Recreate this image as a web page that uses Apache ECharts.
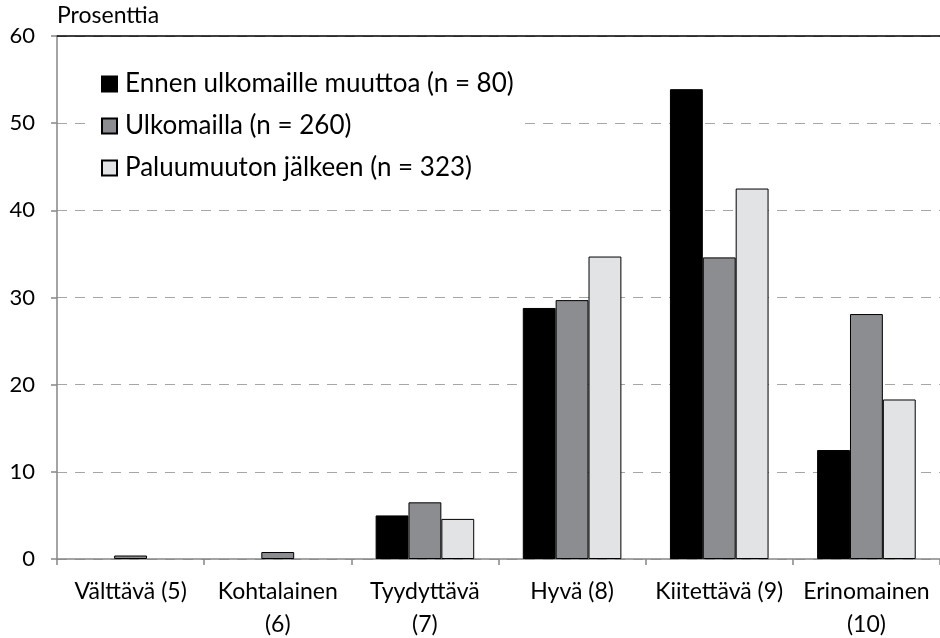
<!DOCTYPE html>
<html>
<head>
<meta charset="utf-8">
<script src="https://cdn.jsdelivr.net/npm/echarts@6/dist/echarts.min.js"></script>
<style>
    html, body { margin: 0; padding: 0; background: #fff; }
    #chart { width: 940px; height: 638px; }
</style>
</head>
<body>
<div id="chart"></div>
<script>
    // categories and values (percent)
    const categories = ['Välttävä (5)', 'Kohtalainen\n(6)', 'Tyydyttävä\n(7)', 'Hyvä (8)', 'Kiitettävä (9)', 'Erinomainen\n(10)'];
    const beforeMove = [0, 0, 5.0, 28.8, 53.9, 12.5];
    const abroad = [0.4, 0.8, 6.5, 29.7, 34.6, 28.1];
    const afterReturn = [0, 0, 4.6, 34.7, 42.5, 18.3];
    const seriesNames = ['Ennen ulkomaille muuttoa (n = 80)', 'Ulkomailla (n = 260)', 'Paluumuuton jälkeen (n = 323)'];
    const yTicks = [0, 10, 20, 30, 40, 50, 60];

    const font = 'Lato, "Open Sans", sans-serif';
    const chart = echarts.init(document.getElementById('chart'), null, { renderer: 'canvas' });

    function barSeries(name, data, color) {
        return {
            name: name,
            type: 'bar',
            // zero shares get no bar at all (otherwise the border leaves a flat line)
            data: data.map(v => v === 0 ? '-' : v),
            barGap: 0,
            barCategoryGap: '33%',
            itemStyle: { color: color, borderColor: '#000', borderWidth: 1 },
            emphasis: { disabled: true }
        };
    }

    chart.setOption({
        animation: false,
        textStyle: { fontFamily: font },
        grid: { left: 57, right: 0, top: 36, bottom: 79, containLabel: false, outerBoundsMode: 'none' },
        title: {
            text: 'Prosenttia',
            left: 57, top: 4, padding: 0,
            textStyle: { fontFamily: font, fontSize: 23, fontWeight: 'normal', color: '#000' }
        },
        legend: {
            orient: 'vertical',
            left: 86, top: 60,
            padding: [11, 10, 12, 15],
            backgroundColor: '#fff',
            itemWidth: 15, itemHeight: 15,
            itemGap: 16,
            icon: 'rect',
            data: seriesNames,
            textStyle: { fontFamily: font, fontSize: 26, lineHeight: 26, color: '#000', padding: [0, 0, 0, 3] }
        },
        xAxis: [{
            type: 'category',
            data: categories,
            axisLine: { lineStyle: { color: '#868686', width: 1.5 } },
            axisTick: { show: true, length: 6, lineStyle: { color: '#868686', width: 1.5 } },
            axisLabel: { fontFamily: font, fontSize: 23, color: '#000', margin: 16, lineHeight: 33, interval: 0 }
        }, {
            // solid frame line along the top
            type: 'category',
            position: 'top',
            data: categories,
            axisLine: { lineStyle: { color: '#000', width: 1.5 } },
            axisTick: { show: false },
            axisLabel: { show: false }
        }],
        yAxis: {
            type: 'value',
            min: 0, max: 60, interval: 10,
            axisLine: { show: true, lineStyle: { color: '#868686', width: 1.5 } },
            axisTick: { show: true, length: 6, lineStyle: { color: '#868686', width: 1.5 } },
            axisLabel: {
                fontFamily: font, fontSize: 22, color: '#000', margin: 22,
                formatter: v => yTicks.includes(v) ? String(v) : ''
            },
            splitLine: { lineStyle: { color: '#a6a6a6', type: [10, 8], width: 1 } }
        },
        series: [
            barSeries(seriesNames[0], beforeMove, '#000000'),
            barSeries(seriesNames[1], abroad, '#8c8d91'),
            barSeries(seriesNames[2], afterReturn, '#e2e3e5')
        ]
    });
</script>
</body>
</html>
